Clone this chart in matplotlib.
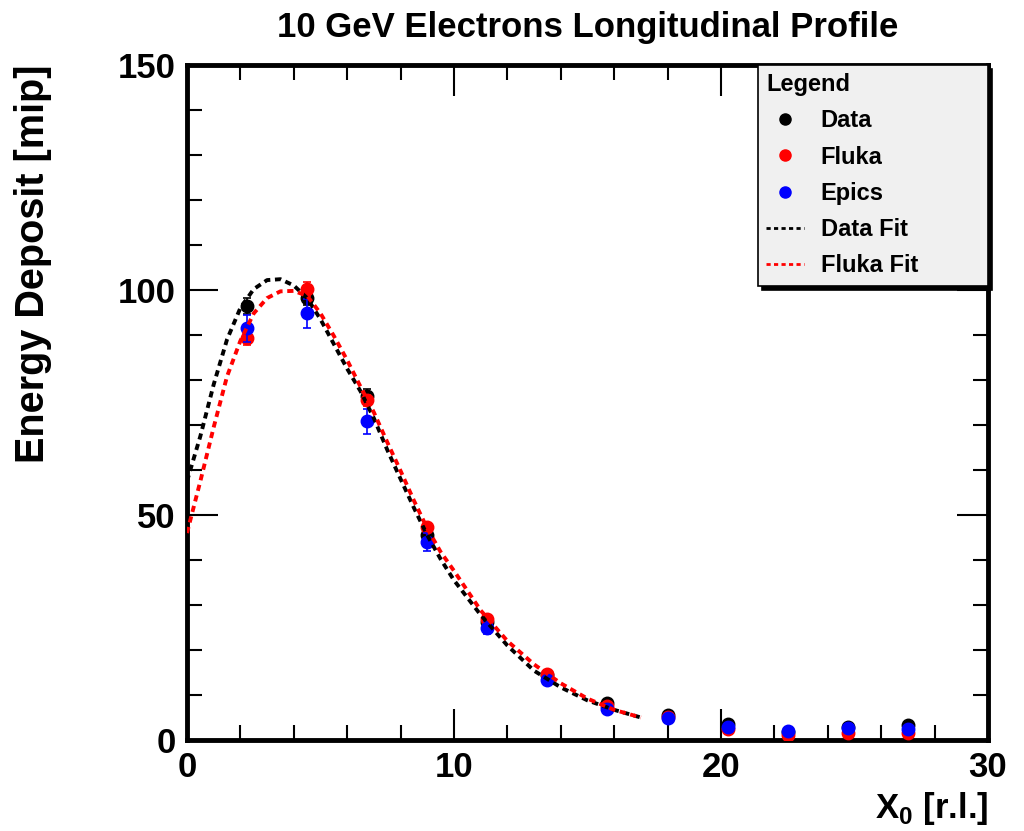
import numpy as np
import matplotlib
matplotlib.use("Agg")
import matplotlib.pyplot as plt
from matplotlib.ticker import MultipleLocator
from matplotlib.lines import Line2D

# layer positions in radiation lengths
x_pos = [2.25, 4.5, 6.75, 9.0, 11.25, 13.5, 15.75, 18.0, 20.25, 22.5, 24.75, 27.0]

# measured and simulated energy deposit [mip]
data_y = [96.5, 98.2, 76.4, 45.5, 26.2, 14.4, 8.2, 5.6, 3.5, 1.8, 2.8, 3.3]
data_err = [1.8, 1.6, 1.5, 1.0, 0.8, 0.5, 0.4, 0.3, 0.3, 0.2, 0.2, 0.2]
fluka_y = [89.3, 100.2, 75.5, 47.3, 27.0, 14.6, 7.6, 5.2, 2.4, 1.1, 1.6, 1.5]
fluka_err = [1.5, 1.5, 1.2, 0.9, 0.7, 0.5, 0.4, 0.3, 0.2, 0.2, 0.2, 0.2]
epics_y = [91.5, 94.8, 70.8, 44.0, 25.0, 13.4, 7.0, 4.9, 2.9, 2.0, 2.7, 2.5]
epics_err = [3.0, 3.2, 2.8, 2.0, 1.5, 0.9, 0.6, 0.4, 0.3, 0.3, 0.3, 0.3]

# fit curves
fit_x = [0, 0.5, 1, 1.5, 2, 2.5, 3, 3.5, 4, 4.5, 5, 5.5, 6, 6.5, 7, 7.5, 8, 8.5,
         9, 9.5, 10, 11, 12, 13, 14, 15, 16, 17]
data_fit = [57.5, 67.5, 79.0, 89.0, 96.0, 100.2, 102.2, 102.4, 101.0, 98.2, 93.5, 88.0,
            82.5, 77.5, 71.5, 64.5, 58.0, 51.6, 45.5, 40.2, 35.5, 27.8, 21.0, 15.4,
            11.7, 8.8, 6.7, 5.0]
fluka_fit = [46.0, 57.5, 69.5, 80.8, 88.7, 94.8, 98.2, 99.7, 99.8, 98.7, 94.8, 89.8,
             84.4, 78.5, 72.8, 66.2, 59.8, 53.2, 47.0, 41.8, 37.6, 28.8, 22.0, 16.8,
             12.6, 9.2, 6.7, 5.0]

plt.rcParams['font.family'] = ['Liberation Sans', 'DejaVu Sans']
plt.rcParams['font.weight'] = 'bold'

fig = plt.figure(figsize=(10.24, 8.31), dpi=100)
ax = fig.add_axes([0.1826, 0.1095, 0.7822, 0.8123])

ms = 9
ax.errorbar(x_pos, data_y, yerr=data_err, fmt='o', color='black', ms=ms,
            capsize=3, elinewidth=1.2, capthick=1.2, zorder=3)
ax.errorbar(x_pos, fluka_y, yerr=fluka_err, fmt='o', color='#ff0000', ms=ms,
            capsize=3, elinewidth=1.2, capthick=1.2, zorder=4)
ax.errorbar(x_pos, epics_y, yerr=epics_err, fmt='o', color='#0000ff', ms=ms,
            capsize=3, elinewidth=1.2, capthick=1.2, zorder=5)

ax.plot(fit_x, data_fit, color='black', lw=2.8, ls=(0, (1.6, 1.2)), zorder=6)
ax.plot(fit_x, fluka_fit, color='#ff0000', lw=2.8, ls=(0, (1.6, 1.2)), zorder=7)

ax.set_xlim(0, 30)
ax.set_ylim(0, 150)
ax.xaxis.set_major_locator(MultipleLocator(10))
ax.xaxis.set_minor_locator(MultipleLocator(2))
ax.yaxis.set_major_locator(MultipleLocator(50))
ax.yaxis.set_minor_locator(MultipleLocator(10))
ax.tick_params(which='both', direction='in', top=True, right=True, width=1.5,
               labelsize=25, color='black')
ax.tick_params(which='major', length=22, pad=8)
ax.tick_params(which='minor', length=11)
for lab in ax.get_xticklabels() + ax.get_yticklabels():
    lab.set_fontweight('bold')
for sp in ax.spines.values():
    sp.set_linewidth(3.5)

ax.set_title('10 GeV Electrons Longitudinal Profile', fontsize=25, fontweight='bold', pad=20)
ax.set_xlabel(r'X$_\mathregular{0}$ [r.l.]', fontsize=25, fontweight='bold', loc='right')
ax.set_ylabel('Energy Deposit [mip]', fontsize=28.5, fontweight='bold', loc='top')
ax.yaxis.set_label_coords(-0.168, 1.0)

handles = [
    Line2D([], [], ls='none', marker='o', color='black', ms=8),
    Line2D([], [], ls='none', marker='o', color='#ff0000', ms=8),
    Line2D([], [], ls='none', marker='o', color='#0000ff', ms=8),
    Line2D([], [], color='black', lw=2, ls=(0, (1.5, 1.2))),
    Line2D([], [], color='#ff0000', lw=2, ls=(0, (1.5, 1.2))),
]
labels = ['Data', 'Fluka', 'Epics', 'Data Fit', 'Fluka Fit']
leg = ax.legend(handles, labels, title='Legend', loc='upper left',
                bbox_to_anchor=(0.713, 0.677, 0.287, 0.323), mode='expand',
                fontsize=17, title_fontproperties={'size': 17, 'weight': 'bold'},
                alignment='left', frameon=True, fancybox=False,
                shadow={'color': 'black', 'alpha': 1, 'ox': 3, 'oy': -3},
                borderpad=0.35, labelspacing=0.56, handlelength=1.6, handletextpad=0.7,
                borderaxespad=0.0)
leg.get_frame().set_facecolor('#f0f0f0')
leg.get_frame().set_edgecolor('black')
leg.get_frame().set_linewidth(1.2)
leg.set_zorder(10)

fig.savefig('out.png', dpi=100)
